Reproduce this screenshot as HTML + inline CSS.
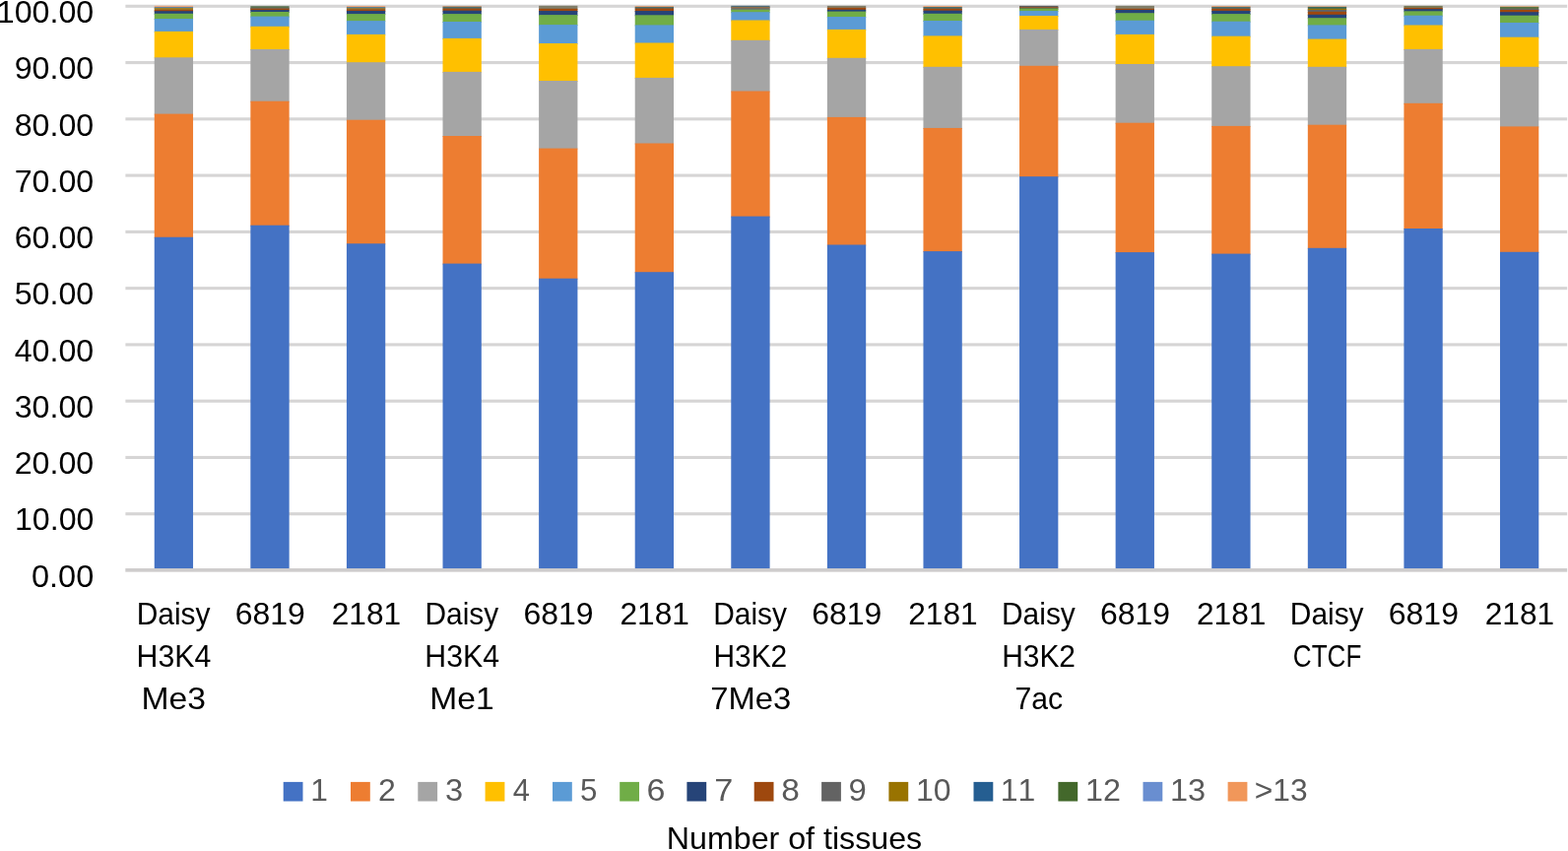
<!DOCTYPE html>
<html lang="en"><head><meta charset="utf-8"><title>Number of tissues</title>
<style>html,body{margin:0;padding:0;background:#fff;overflow:hidden}body{width:1592px;height:864px}svg{display:block}text{font-family:"Liberation Sans",Arial,sans-serif;white-space:pre;font-kerning:none}</style></head><body>
<svg width="1592" height="864" viewBox="0 0 1592 864" role="img" aria-label="Stacked bar chart: number of tissues">
<rect width="1592" height="864" fill="#fff"/>
<g fill="#D6D5D5">
<rect x="127.40" y="4.75" width="1463.80" height="3.1"/>
<rect x="127.40" y="62.02" width="1463.80" height="3.1"/>
<rect x="127.40" y="119.29" width="1463.80" height="3.1"/>
<rect x="127.40" y="176.56" width="1463.80" height="3.1"/>
<rect x="127.40" y="233.83" width="1463.80" height="3.1"/>
<rect x="127.40" y="291.10" width="1463.80" height="3.1"/>
<rect x="127.40" y="348.37" width="1463.80" height="3.1"/>
<rect x="127.40" y="405.64" width="1463.80" height="3.1"/>
<rect x="127.40" y="462.91" width="1463.80" height="3.1"/>
<rect x="127.40" y="520.18" width="1463.80" height="3.1"/>
</g>
<g>
<rect x="156.74" y="5.85" width="39.3" height="2.15" fill="#F1A77A"/>
<rect x="156.74" y="7.00" width="39.3" height="2.00" fill="#6383A0"/>
<rect x="156.74" y="8.00" width="39.3" height="2.80" fill="#9A7F2A"/>
<rect x="156.74" y="9.80" width="39.3" height="2.40" fill="#9E480E"/>
<rect x="156.74" y="11.20" width="39.3" height="3.56" fill="#264478"/>
<rect x="156.74" y="13.76" width="39.3" height="6.29" fill="#70AD47"/>
<rect x="156.74" y="19.05" width="39.3" height="13.85" fill="#5B9BD5"/>
<rect x="156.74" y="31.90" width="39.3" height="27.40" fill="#FFC000"/>
<rect x="156.74" y="58.30" width="39.3" height="58.30" fill="#A5A5A5"/>
<rect x="156.74" y="115.60" width="39.3" height="126.15" fill="#ED7D31"/>
<rect x="156.74" y="240.75" width="39.3" height="338.25" fill="#4472C4"/>
<rect x="254.34" y="6.20" width="39.3" height="2.90" fill="#5A7050"/>
<rect x="254.34" y="8.10" width="39.3" height="1.60" fill="#6B6B63"/>
<rect x="254.34" y="8.70" width="39.3" height="2.40" fill="#9E480E"/>
<rect x="254.34" y="10.10" width="39.3" height="2.90" fill="#264478"/>
<rect x="254.34" y="12.00" width="39.3" height="5.60" fill="#70AD47"/>
<rect x="254.34" y="16.60" width="39.3" height="11.20" fill="#5B9BD5"/>
<rect x="254.34" y="26.80" width="39.3" height="24.20" fill="#FFC000"/>
<rect x="254.34" y="50.00" width="39.3" height="53.70" fill="#A5A5A5"/>
<rect x="254.34" y="102.70" width="39.3" height="127.00" fill="#ED7D31"/>
<rect x="254.34" y="228.70" width="39.3" height="350.30" fill="#4472C4"/>
<rect x="351.93" y="6.00" width="39.3" height="2.00" fill="#F1A77A"/>
<rect x="351.93" y="7.00" width="39.3" height="2.10" fill="#5F7F8F"/>
<rect x="351.93" y="8.10" width="39.3" height="2.40" fill="#8F7A3A"/>
<rect x="351.93" y="9.50" width="39.3" height="2.50" fill="#9E480E"/>
<rect x="351.93" y="11.00" width="39.3" height="4.10" fill="#264478"/>
<rect x="351.93" y="14.10" width="39.3" height="8.00" fill="#70AD47"/>
<rect x="351.93" y="21.10" width="39.3" height="14.80" fill="#5B9BD5"/>
<rect x="351.93" y="34.90" width="39.3" height="29.30" fill="#FFC000"/>
<rect x="351.93" y="63.20" width="39.3" height="59.50" fill="#A5A5A5"/>
<rect x="351.93" y="121.70" width="39.3" height="126.60" fill="#ED7D31"/>
<rect x="351.93" y="247.30" width="39.3" height="331.70" fill="#4472C4"/>
<rect x="449.51" y="6.00" width="39.3" height="1.70" fill="#F1A77A"/>
<rect x="449.51" y="6.70" width="39.3" height="2.90" fill="#4F6D6A"/>
<rect x="449.51" y="8.60" width="39.3" height="3.10" fill="#9E480E"/>
<rect x="449.51" y="10.70" width="39.3" height="4.40" fill="#264478"/>
<rect x="449.51" y="14.10" width="39.3" height="8.90" fill="#70AD47"/>
<rect x="449.51" y="22.00" width="39.3" height="17.90" fill="#5B9BD5"/>
<rect x="449.51" y="38.90" width="39.3" height="35.00" fill="#FFC000"/>
<rect x="449.51" y="72.90" width="39.3" height="66.10" fill="#A5A5A5"/>
<rect x="449.51" y="138.00" width="39.3" height="130.60" fill="#ED7D31"/>
<rect x="449.51" y="267.60" width="39.3" height="311.40" fill="#4472C4"/>
<rect x="547.11" y="5.80" width="39.3" height="4.00" fill="#807D68"/>
<rect x="547.11" y="8.80" width="39.3" height="3.25" fill="#9E480E"/>
<rect x="547.11" y="11.05" width="39.3" height="5.05" fill="#264478"/>
<rect x="547.11" y="15.10" width="39.3" height="11.00" fill="#70AD47"/>
<rect x="547.11" y="25.10" width="39.3" height="19.90" fill="#5B9BD5"/>
<rect x="547.11" y="44.00" width="39.3" height="39.00" fill="#FFC000"/>
<rect x="547.11" y="82.00" width="39.3" height="69.60" fill="#A5A5A5"/>
<rect x="547.11" y="150.60" width="39.3" height="133.10" fill="#ED7D31"/>
<rect x="547.11" y="282.70" width="39.3" height="296.30" fill="#4472C4"/>
<rect x="644.70" y="6.00" width="39.3" height="1.90" fill="#F1A77A"/>
<rect x="644.70" y="6.90" width="39.3" height="2.60" fill="#4F6D6A"/>
<rect x="644.70" y="8.50" width="39.3" height="3.55" fill="#9E480E"/>
<rect x="644.70" y="11.05" width="39.3" height="5.25" fill="#264478"/>
<rect x="644.70" y="15.30" width="39.3" height="11.10" fill="#70AD47"/>
<rect x="644.70" y="25.40" width="39.3" height="19.10" fill="#5B9BD5"/>
<rect x="644.70" y="43.50" width="39.3" height="36.40" fill="#FFC000"/>
<rect x="644.70" y="78.90" width="39.3" height="67.60" fill="#A5A5A5"/>
<rect x="644.70" y="145.50" width="39.3" height="131.70" fill="#ED7D31"/>
<rect x="644.70" y="276.20" width="39.3" height="302.80" fill="#4472C4"/>
<rect x="742.29" y="5.80" width="39.3" height="2.10" fill="#4A6E80"/>
<rect x="742.29" y="6.90" width="39.3" height="2.60" fill="#8B6B48"/>
<rect x="742.29" y="8.50" width="39.3" height="2.20" fill="#666A78"/>
<rect x="742.29" y="9.70" width="39.3" height="3.50" fill="#70AD47"/>
<rect x="742.29" y="12.20" width="39.3" height="9.30" fill="#5B9BD5"/>
<rect x="742.29" y="20.50" width="39.3" height="21.30" fill="#FFC000"/>
<rect x="742.29" y="40.80" width="39.3" height="52.70" fill="#A5A5A5"/>
<rect x="742.29" y="92.50" width="39.3" height="128.10" fill="#ED7D31"/>
<rect x="742.29" y="219.60" width="39.3" height="359.40" fill="#4472C4"/>
<rect x="839.88" y="5.90" width="39.3" height="2.90" fill="#807D68"/>
<rect x="839.88" y="7.80" width="39.3" height="3.00" fill="#9E480E"/>
<rect x="839.88" y="9.80" width="39.3" height="2.80" fill="#264478"/>
<rect x="839.88" y="11.60" width="39.3" height="6.40" fill="#70AD47"/>
<rect x="839.88" y="17.00" width="39.3" height="13.90" fill="#5B9BD5"/>
<rect x="839.88" y="29.90" width="39.3" height="29.90" fill="#FFC000"/>
<rect x="839.88" y="58.80" width="39.3" height="61.10" fill="#A5A5A5"/>
<rect x="839.88" y="118.90" width="39.3" height="130.60" fill="#ED7D31"/>
<rect x="839.88" y="248.50" width="39.3" height="330.50" fill="#4472C4"/>
<rect x="937.47" y="6.00" width="39.3" height="2.00" fill="#F1A77A"/>
<rect x="937.47" y="7.00" width="39.3" height="2.80" fill="#4F6D6A"/>
<rect x="937.47" y="8.80" width="39.3" height="2.90" fill="#9E480E"/>
<rect x="937.47" y="10.70" width="39.3" height="4.10" fill="#264478"/>
<rect x="937.47" y="13.80" width="39.3" height="8.20" fill="#70AD47"/>
<rect x="937.47" y="21.00" width="39.3" height="16.40" fill="#5B9BD5"/>
<rect x="937.47" y="36.40" width="39.3" height="32.40" fill="#FFC000"/>
<rect x="937.47" y="67.80" width="39.3" height="63.15" fill="#A5A5A5"/>
<rect x="937.47" y="129.95" width="39.3" height="126.15" fill="#ED7D31"/>
<rect x="937.47" y="255.10" width="39.3" height="323.90" fill="#4472C4"/>
<rect x="1035.05" y="5.90" width="39.3" height="2.10" fill="#5F5F5F"/>
<rect x="1035.05" y="7.00" width="39.3" height="2.30" fill="#8E5530"/>
<rect x="1035.05" y="8.30" width="39.3" height="1.50" fill="#4A7A50"/>
<rect x="1035.05" y="8.80" width="39.3" height="3.25" fill="#70AD47"/>
<rect x="1035.05" y="11.05" width="39.3" height="5.95" fill="#5B9BD5"/>
<rect x="1035.05" y="16.00" width="39.3" height="14.90" fill="#FFC000"/>
<rect x="1035.05" y="29.90" width="39.3" height="37.90" fill="#A5A5A5"/>
<rect x="1035.05" y="66.80" width="39.3" height="113.40" fill="#ED7D31"/>
<rect x="1035.05" y="179.20" width="39.3" height="399.80" fill="#4472C4"/>
<rect x="1132.64" y="5.90" width="39.3" height="3.90" fill="#807D68"/>
<rect x="1132.64" y="8.80" width="39.3" height="2.20" fill="#9E480E"/>
<rect x="1132.64" y="10.00" width="39.3" height="4.20" fill="#264478"/>
<rect x="1132.64" y="13.20" width="39.3" height="8.50" fill="#70AD47"/>
<rect x="1132.64" y="20.70" width="39.3" height="15.20" fill="#5B9BD5"/>
<rect x="1132.64" y="34.90" width="39.3" height="31.10" fill="#FFC000"/>
<rect x="1132.64" y="65.00" width="39.3" height="60.70" fill="#A5A5A5"/>
<rect x="1132.64" y="124.70" width="39.3" height="132.40" fill="#ED7D31"/>
<rect x="1132.64" y="256.10" width="39.3" height="322.90" fill="#4472C4"/>
<rect x="1230.23" y="6.00" width="39.3" height="1.90" fill="#F1A77A"/>
<rect x="1230.23" y="6.90" width="39.3" height="2.90" fill="#4F6D6A"/>
<rect x="1230.23" y="8.80" width="39.3" height="3.10" fill="#9E480E"/>
<rect x="1230.23" y="10.90" width="39.3" height="4.20" fill="#264478"/>
<rect x="1230.23" y="14.10" width="39.3" height="8.60" fill="#70AD47"/>
<rect x="1230.23" y="21.70" width="39.3" height="16.00" fill="#5B9BD5"/>
<rect x="1230.23" y="36.70" width="39.3" height="31.50" fill="#FFC000"/>
<rect x="1230.23" y="67.20" width="39.3" height="61.70" fill="#A5A5A5"/>
<rect x="1230.23" y="127.90" width="39.3" height="130.70" fill="#ED7D31"/>
<rect x="1230.23" y="257.60" width="39.3" height="321.40" fill="#4472C4"/>
<rect x="1327.82" y="6.30" width="39.3" height="1.60" fill="#F1A77A"/>
<rect x="1327.82" y="6.90" width="39.3" height="2.90" fill="#3F6A5A"/>
<rect x="1327.82" y="8.80" width="39.3" height="2.20" fill="#997300"/>
<rect x="1327.82" y="10.00" width="39.3" height="2.90" fill="#636363"/>
<rect x="1327.82" y="11.90" width="39.3" height="3.90" fill="#9E480E"/>
<rect x="1327.82" y="14.80" width="39.3" height="4.40" fill="#264478"/>
<rect x="1327.82" y="18.20" width="39.3" height="8.20" fill="#70AD47"/>
<rect x="1327.82" y="25.40" width="39.3" height="15.20" fill="#5B9BD5"/>
<rect x="1327.82" y="39.60" width="39.3" height="29.20" fill="#FFC000"/>
<rect x="1327.82" y="67.80" width="39.3" height="59.90" fill="#A5A5A5"/>
<rect x="1327.82" y="126.70" width="39.3" height="126.10" fill="#ED7D31"/>
<rect x="1327.82" y="251.80" width="39.3" height="327.20" fill="#4472C4"/>
<rect x="1425.41" y="5.90" width="39.3" height="3.00" fill="#787A58"/>
<rect x="1425.41" y="7.90" width="39.3" height="2.30" fill="#9E480E"/>
<rect x="1425.41" y="9.20" width="39.3" height="3.10" fill="#264478"/>
<rect x="1425.41" y="11.30" width="39.3" height="5.40" fill="#70AD47"/>
<rect x="1425.41" y="15.70" width="39.3" height="10.80" fill="#5B9BD5"/>
<rect x="1425.41" y="25.50" width="39.3" height="25.40" fill="#FFC000"/>
<rect x="1425.41" y="49.90" width="39.3" height="55.90" fill="#A5A5A5"/>
<rect x="1425.41" y="104.80" width="39.3" height="128.20" fill="#ED7D31"/>
<rect x="1425.41" y="232.00" width="39.3" height="347.00" fill="#4472C4"/>
<rect x="1523.00" y="6.30" width="39.3" height="1.60" fill="#F1A77A"/>
<rect x="1523.00" y="6.90" width="39.3" height="2.90" fill="#5A7340"/>
<rect x="1523.00" y="8.80" width="39.3" height="2.20" fill="#636363"/>
<rect x="1523.00" y="10.00" width="39.3" height="3.20" fill="#9E480E"/>
<rect x="1523.00" y="12.20" width="39.3" height="4.50" fill="#264478"/>
<rect x="1523.00" y="15.70" width="39.3" height="8.30" fill="#70AD47"/>
<rect x="1523.00" y="23.00" width="39.3" height="15.70" fill="#5B9BD5"/>
<rect x="1523.00" y="37.70" width="39.3" height="31.10" fill="#FFC000"/>
<rect x="1523.00" y="67.80" width="39.3" height="61.60" fill="#A5A5A5"/>
<rect x="1523.00" y="128.40" width="39.3" height="128.40" fill="#ED7D31"/>
<rect x="1523.00" y="255.80" width="39.3" height="323.20" fill="#4472C4"/>
</g>
<rect x="127.30" y="577.05" width="1463.90" height="3.6" fill="#CECCCC"/>
<g>
<text id="y0" x="95.23" y="23.00" text-anchor="end" fill="#000" font-size="31.9" textLength="98.42" lengthAdjust="spacingAndGlyphs">100.00</text>
<text id="y1" x="95.23" y="80.27" text-anchor="end" fill="#000" font-size="31.9" textLength="80.52" lengthAdjust="spacingAndGlyphs">90.00</text>
<text id="y2" x="95.23" y="137.54" text-anchor="end" fill="#000" font-size="31.9" textLength="80.52" lengthAdjust="spacingAndGlyphs">80.00</text>
<text id="y3" x="95.23" y="194.81" text-anchor="end" fill="#000" font-size="31.9" textLength="80.52" lengthAdjust="spacingAndGlyphs">70.00</text>
<text id="y4" x="95.23" y="252.08" text-anchor="end" fill="#000" font-size="31.9" textLength="80.52" lengthAdjust="spacingAndGlyphs">60.00</text>
<text id="y5" x="95.23" y="309.35" text-anchor="end" fill="#000" font-size="31.9" textLength="80.52" lengthAdjust="spacingAndGlyphs">50.00</text>
<text id="y6" x="95.23" y="366.62" text-anchor="end" fill="#000" font-size="31.9" textLength="80.52" lengthAdjust="spacingAndGlyphs">40.00</text>
<text id="y7" x="95.23" y="423.89" text-anchor="end" fill="#000" font-size="31.9" textLength="80.52" lengthAdjust="spacingAndGlyphs">30.00</text>
<text id="y8" x="95.23" y="481.16" text-anchor="end" fill="#000" font-size="31.9" textLength="80.52" lengthAdjust="spacingAndGlyphs">20.00</text>
<text id="y9" x="95.39" y="538.43" text-anchor="end" fill="#000" font-size="31.9" textLength="80.43" lengthAdjust="spacingAndGlyphs">10.00</text>
<text id="y10" x="95.26" y="596.00" text-anchor="end" fill="#000" font-size="31.9" textLength="63.28" lengthAdjust="spacingAndGlyphs">0.00</text>
</g>
<g>
<text id="c0_0" x="176.10" y="633.90" text-anchor="middle" fill="#000" font-size="31.8" textLength="74.75" lengthAdjust="spacingAndGlyphs">Daisy</text>
<text id="c0_1" x="176.43" y="677.20" text-anchor="middle" fill="#000" font-size="31.8" textLength="75.68" lengthAdjust="spacingAndGlyphs">H3K4</text>
<text id="c0_2" x="176.23" y="720.40" text-anchor="middle" fill="#000" font-size="31.8" textLength="65.50" lengthAdjust="spacingAndGlyphs">Me3</text>
<text id="c1_0" x="274.29" y="633.90" text-anchor="middle" fill="#000" font-size="31.8" textLength="71.11" lengthAdjust="spacingAndGlyphs">6819</text>
<text id="c2_0" x="371.93" y="633.90" text-anchor="middle" fill="#000" font-size="31.8" textLength="70.47" lengthAdjust="spacingAndGlyphs">2181</text>
<text id="c3_0" x="468.87" y="633.90" text-anchor="middle" fill="#000" font-size="31.8" textLength="74.75" lengthAdjust="spacingAndGlyphs">Daisy</text>
<text id="c3_1" x="469.20" y="677.20" text-anchor="middle" fill="#000" font-size="31.8" textLength="75.68" lengthAdjust="spacingAndGlyphs">H3K4</text>
<text id="c3_2" x="468.98" y="720.40" text-anchor="middle" fill="#000" font-size="31.8" textLength="65.32" lengthAdjust="spacingAndGlyphs">Me1</text>
<text id="c4_0" x="567.05" y="633.90" text-anchor="middle" fill="#000" font-size="31.8" textLength="71.11" lengthAdjust="spacingAndGlyphs">6819</text>
<text id="c5_0" x="664.70" y="633.90" text-anchor="middle" fill="#000" font-size="31.8" textLength="70.47" lengthAdjust="spacingAndGlyphs">2181</text>
<text id="c6_0" x="761.65" y="633.90" text-anchor="middle" fill="#000" font-size="31.8" textLength="74.75" lengthAdjust="spacingAndGlyphs">Daisy</text>
<text id="c6_1" x="761.82" y="677.20" text-anchor="middle" fill="#000" font-size="31.8" textLength="74.78" lengthAdjust="spacingAndGlyphs">H3K2</text>
<text id="c6_2" x="762.21" y="720.40" text-anchor="middle" fill="#000" font-size="31.8" textLength="81.93" lengthAdjust="spacingAndGlyphs">7Me3</text>
<text id="c7_0" x="859.83" y="633.90" text-anchor="middle" fill="#000" font-size="31.8" textLength="71.11" lengthAdjust="spacingAndGlyphs">6819</text>
<text id="c8_0" x="957.47" y="633.90" text-anchor="middle" fill="#000" font-size="31.8" textLength="70.47" lengthAdjust="spacingAndGlyphs">2181</text>
<text id="c9_0" x="1054.41" y="633.90" text-anchor="middle" fill="#000" font-size="31.8" textLength="74.75" lengthAdjust="spacingAndGlyphs">Daisy</text>
<text id="c9_1" x="1054.59" y="677.20" text-anchor="middle" fill="#000" font-size="31.8" textLength="74.78" lengthAdjust="spacingAndGlyphs">H3K2</text>
<text id="c9_2" x="1054.87" y="720.40" text-anchor="middle" fill="#000" font-size="31.8" textLength="48.63" lengthAdjust="spacingAndGlyphs">7ac</text>
<text id="c10_0" x="1152.59" y="633.90" text-anchor="middle" fill="#000" font-size="31.8" textLength="71.11" lengthAdjust="spacingAndGlyphs">6819</text>
<text id="c11_0" x="1250.23" y="633.90" text-anchor="middle" fill="#000" font-size="31.8" textLength="70.47" lengthAdjust="spacingAndGlyphs">2181</text>
<text id="c12_0" x="1347.18" y="633.90" text-anchor="middle" fill="#000" font-size="31.8" textLength="74.75" lengthAdjust="spacingAndGlyphs">Daisy</text>
<text id="c12_1" x="1347.58" y="677.20" text-anchor="middle" fill="#000" font-size="31.8" textLength="69.47" lengthAdjust="spacingAndGlyphs">CTCF</text>
<text id="c13_0" x="1445.37" y="633.90" text-anchor="middle" fill="#000" font-size="31.8" textLength="71.11" lengthAdjust="spacingAndGlyphs">6819</text>
<text id="c14_0" x="1543.00" y="633.90" text-anchor="middle" fill="#000" font-size="31.8" textLength="70.47" lengthAdjust="spacingAndGlyphs">2181</text>
</g>
<g>
<rect x="287.70" y="793.9" width="19.8" height="19.6" fill="#4472C4"/>
<text id="l0" x="315.21" y="812.70" text-anchor="start" fill="#595959" font-size="31.9" textLength="17.67" lengthAdjust="spacingAndGlyphs">1</text>
<rect x="356.00" y="793.9" width="19.8" height="19.6" fill="#ED7D31"/>
<text id="l1" x="383.96" y="812.70" text-anchor="start" fill="#595959" font-size="31.9" textLength="17.82" lengthAdjust="spacingAndGlyphs">2</text>
<rect x="424.30" y="793.9" width="19.8" height="19.6" fill="#A5A5A5"/>
<text id="l2" x="452.01" y="812.70" text-anchor="start" fill="#595959" font-size="31.9" textLength="18.15" lengthAdjust="spacingAndGlyphs">3</text>
<rect x="492.60" y="793.9" width="19.8" height="19.6" fill="#FFC000"/>
<text id="l3" x="520.80" y="812.70" text-anchor="start" fill="#595959" font-size="31.9" textLength="17.20" lengthAdjust="spacingAndGlyphs">4</text>
<rect x="561.00" y="793.9" width="19.8" height="19.6" fill="#5B9BD5"/>
<text id="l4" x="588.88" y="812.70" text-anchor="start" fill="#595959" font-size="31.9" textLength="17.41" lengthAdjust="spacingAndGlyphs">5</text>
<rect x="629.20" y="793.9" width="19.8" height="19.6" fill="#70AD47"/>
<text id="l5" x="656.47" y="812.70" text-anchor="start" fill="#595959" font-size="31.9" textLength="18.95" lengthAdjust="spacingAndGlyphs">6</text>
<rect x="697.40" y="793.9" width="19.8" height="19.6" fill="#264478"/>
<text id="l6" x="725.19" y="812.70" text-anchor="start" fill="#595959" font-size="31.9" textLength="19.09" lengthAdjust="spacingAndGlyphs">7</text>
<rect x="765.70" y="793.9" width="19.8" height="19.6" fill="#9E480E"/>
<text id="l7" x="793.19" y="812.70" text-anchor="start" fill="#595959" font-size="31.9" textLength="18.61" lengthAdjust="spacingAndGlyphs">8</text>
<rect x="834.10" y="793.9" width="19.8" height="19.6" fill="#636363"/>
<text id="l8" x="861.51" y="812.70" text-anchor="start" fill="#595959" font-size="31.9" textLength="18.32" lengthAdjust="spacingAndGlyphs">9</text>
<rect x="902.40" y="793.9" width="19.8" height="19.6" fill="#997300"/>
<text id="l9" x="930.08" y="812.70" text-anchor="start" fill="#595959" font-size="31.9" textLength="35.58" lengthAdjust="spacingAndGlyphs">10</text>
<rect x="988.50" y="793.9" width="19.8" height="19.6" fill="#255E91"/>
<text id="l10" x="1015.81" y="812.70" text-anchor="start" fill="#595959" font-size="31.9" textLength="35.60" lengthAdjust="spacingAndGlyphs">11</text>
<rect x="1074.40" y="793.9" width="19.8" height="19.6" fill="#43682B"/>
<text id="l11" x="1102.02" y="812.70" text-anchor="start" fill="#595959" font-size="31.9" textLength="35.92" lengthAdjust="spacingAndGlyphs">12</text>
<rect x="1160.50" y="793.9" width="19.8" height="19.6" fill="#698ED0"/>
<text id="l12" x="1187.91" y="812.70" text-anchor="start" fill="#595959" font-size="31.9" textLength="36.17" lengthAdjust="spacingAndGlyphs">13</text>
<rect x="1246.60" y="793.9" width="19.8" height="19.6" fill="#F1975A"/>
<text id="l13" x="1273.69" y="812.70" text-anchor="start" fill="#595959" font-size="31.9" textLength="53.90" lengthAdjust="spacingAndGlyphs">&gt;13</text>
</g>
<text id="title" x="806.51" y="862.40" text-anchor="middle" fill="#000" font-size="31.8" textLength="259.31" lengthAdjust="spacingAndGlyphs">Number of tissues</text>
</svg></body></html>
